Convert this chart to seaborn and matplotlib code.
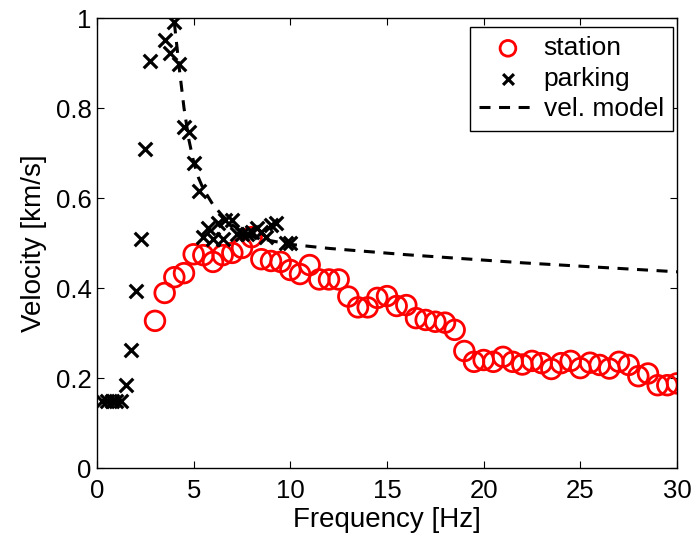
import numpy as np
import pandas as pd
import seaborn as sns
import matplotlib
matplotlib.use('Agg')
import matplotlib.pyplot as plt

# station (red circles)
station_f = [3.0, 3.5, 4.0, 4.5, 5.0, 5.5, 6.0, 6.5, 7.0, 7.5, 8.0, 8.5, 9.0, 9.5,
             10.0, 10.5, 11.0, 11.5, 12.0, 12.5, 13.0, 13.5, 14.0, 14.5, 15.0, 15.5,
             16.0, 16.5, 17.0, 17.5, 18.0, 18.5, 19.0, 19.5, 20.0, 20.5, 21.0, 21.5,
             22.0, 22.5, 23.0, 23.5, 24.0, 24.5, 25.0, 25.5, 26.0, 26.5, 27.0, 27.5,
             28.0, 28.5, 29.0, 29.5, 30.0]
station_v = [0.327, 0.389, 0.424, 0.433, 0.475, 0.473, 0.458, 0.473, 0.478, 0.489,
             0.513, 0.464, 0.460, 0.458, 0.440, 0.431, 0.451, 0.419, 0.419, 0.419,
             0.381, 0.357, 0.357, 0.378, 0.382, 0.360, 0.362, 0.333, 0.329, 0.325,
             0.323, 0.307, 0.260, 0.236, 0.240, 0.236, 0.247, 0.236, 0.230, 0.238,
             0.233, 0.220, 0.233, 0.238, 0.222, 0.234, 0.229, 0.221, 0.236, 0.229,
             0.204, 0.210, 0.184, 0.184, 0.188]

# parking (black crosses)
parking_f = [0.25, 0.5, 0.75, 1.0, 1.25, 1.5, 1.75, 2.0, 2.25, 2.5, 2.75, 3.5, 3.75,
             4.0, 4.25, 4.5, 4.75, 5.0, 5.25, 5.5, 5.75, 6.0, 6.25, 6.5, 6.6, 7.0,
             7.25, 7.5, 7.75, 8.0, 8.25, 8.5, 8.75, 9.0, 9.25, 9.75, 10.0]
parking_v = [0.15, 0.15, 0.15, 0.15, 0.15, 0.184, 0.262, 0.394, 0.51, 0.71, 0.905,
             0.951, 0.923, 0.992, 0.898, 0.758, 0.747, 0.677, 0.616, 0.514, 0.533,
             0.51, 0.545, 0.51, 0.551, 0.551, 0.521, 0.521, 0.521, 0.525, 0.533,
             0.525, 0.514, 0.54, 0.544, 0.499, 0.499]

# velocity model (dashed)
model_f = [4.0, 4.25, 4.5, 4.75, 5.0, 5.25, 5.5, 6.0, 6.5, 7.0, 7.5, 8.0, 9.0, 10.0,
           12.0, 14.0, 16.0, 18.0, 20.0, 22.0, 24.0, 26.0, 28.0, 30.0]
model_v = [0.99, 0.89, 0.80, 0.73, 0.68, 0.645, 0.62, 0.585, 0.56, 0.54, 0.525, 0.515,
           0.505, 0.497, 0.488, 0.481, 0.474, 0.468, 0.462, 0.456, 0.451, 0.446,
           0.441, 0.436]

sns.set_style('ticks')
plt.rcParams['font.family'] = ['Liberation Sans', 'DejaVu Sans']

fig = plt.figure(figsize=(6.96, 5.4), dpi=100)
ax = fig.add_axes([97 / 696, 1 - 468 / 540, 580 / 696, 450 / 540])

sns.scatterplot(x=station_f, y=station_v, ax=ax, marker='o', s=200,
                facecolor='none', edgecolor='red', linewidth=2.0,
                label='station', zorder=2)
sns.scatterplot(x=parking_f, y=parking_v, ax=ax, marker='x', s=95,
                color='black', linewidth=2.3, label='parking', zorder=3)
sns.lineplot(x=model_f, y=model_v, ax=ax, color='black', linewidth=2.2,
             dashes=False, label='vel. model', zorder=4)
ax.lines[-1].set_dashes((3.6, 2.8))

ax.set_xlim(0, 30)
ax.set_ylim(0, 1)
ax.set_xticks([0, 5, 10, 15, 20, 25, 30])
ax.set_yticks([0, 0.2, 0.4, 0.6, 0.8, 1])
ax.set_yticklabels(['0', '0.2', '0.4', '0.6', '0.8', '1'])
ax.set_xlabel('Frequency [Hz]', fontsize=20, labelpad=3, color='black')
ax.set_ylabel('Velocity [km/s]', fontsize=20, labelpad=6, color='black')
ax.tick_params(direction='in', top=True, right=True, length=5, width=0.8,
               labelsize=18.5, colors='black')
ax.tick_params(axis='x', pad=8)
ax.tick_params(axis='y', pad=4)
for sp in ax.spines.values():
    sp.set_linewidth(1.0)
    sp.set_color('black')

leg = ax.legend(loc='upper right', bbox_to_anchor=(0.993, 0.98), fontsize=19,
                frameon=True, fancybox=False, edgecolor='black', framealpha=1,
                borderaxespad=0, handlelength=2.2, handletextpad=0.25,
                labelspacing=0.25, borderpad=0.35, markerscale=0.8)
leg.get_frame().set_linewidth(1.0)
for t in leg.get_texts():
    t.set_color('black')

fig.savefig('out.png', dpi=100)
